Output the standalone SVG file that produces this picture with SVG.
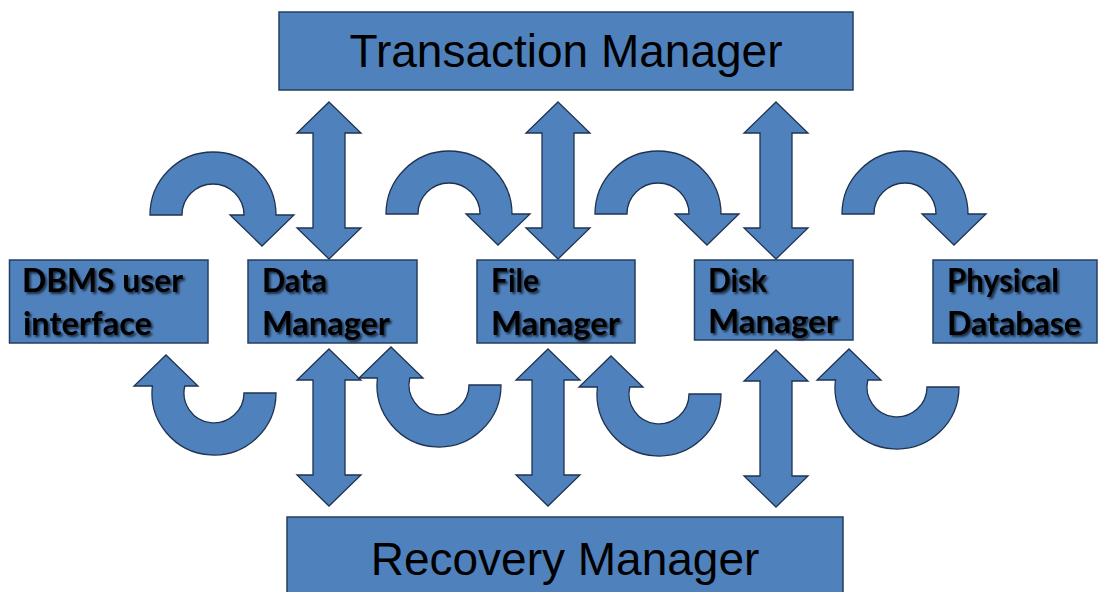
<svg xmlns="http://www.w3.org/2000/svg" xmlns:xlink="http://www.w3.org/1999/xlink" width="1099" height="592" viewBox="0 0 1099 592">
  <style>
    .box { fill: #4F81BD; stroke: #243F60; stroke-width: 1.5; }
    .arrow { fill: #4F81BD; stroke: #1F3350; stroke-width: 1.3; stroke-linejoin: miter; }
    .big { font-family: "Liberation Sans", Arial, sans-serif; font-size: 46px; fill: #000; text-anchor: middle; }
    .lbl { font-family: Lato, "Open Sans", sans-serif; font-weight: 700; font-size: 33px; fill: #000; filter: url(#shadow); }
  </style>
  <defs>
    <filter id="shadow" x="-10%" y="-30%" width="130%" height="170%">
      <feDropShadow dx="2" dy="2" stdDeviation="1.2" flood-color="#000" flood-opacity="0.65"/>
    </filter>
    <!-- vertical two-headed arrow, top tip at the origin -->
    <path id="vArrow" d="M0,0 L32,31 L16,31 L16,126 L32,126 L0,157 L-32,126 L-16,126 L-16,31 L-32,31 Z"/>
    <!-- half-ring arrow over the top, head on the right pointing down -->
    <path id="arcTop" d="M-63,0 A63,63 0 0 1 63,0 L81,0 L49,31 L17,0 L31,0 A31,31 0 0 0 -31,0 Z"/>
    <!-- half-ring arrow under the bottom, head on the left pointing up -->
    <path id="arcBottom" d="M62,0 A62,62 0 1 1 -61.6,-7 L-80,-7 L-48,-38 L-16,-7 L-29.2,-7 A30,30 0 1 0 30,0 Z"/>
  </defs>

  <rect width="1099" height="592" fill="#fff"/>

  <g id="connectors">
    <!-- links to the Transaction Manager -->
    <use xlink:href="#vArrow" class="arrow" x="329" y="102"/>
    <use xlink:href="#vArrow" class="arrow" x="558" y="102"/>
    <use xlink:href="#vArrow" class="arrow" x="776" y="102"/>
    <!-- links to the Recovery Manager -->
    <use xlink:href="#vArrow" class="arrow" x="329" y="349"/>
    <use xlink:href="#vArrow" class="arrow" x="548" y="349"/>
    <use xlink:href="#vArrow" class="arrow" x="776" y="350"/>
    <!-- forward flow between components -->
    <use xlink:href="#arcTop" class="arrow" x="213" y="215"/>
    <use xlink:href="#arcTop" class="arrow" x="449" y="214"/>
    <use xlink:href="#arcTop" class="arrow" x="658" y="214"/>
    <use xlink:href="#arcTop" class="arrow" x="905" y="214"/>
    <!-- return flow between components -->
    <use xlink:href="#arcBottom" class="arrow" x="214" y="393"/>
    <use xlink:href="#arcBottom" class="arrow" x="439" y="385"/>
    <use xlink:href="#arcBottom" class="arrow" x="659" y="394"/>
    <use xlink:href="#arcBottom" class="arrow" x="897" y="387"/>
  </g>

  <g id="transaction-manager">
    <rect class="box" x="279" y="12" width="574" height="78"/>
    <text class="big" x="566" y="67">Transaction Manager</text>
  </g>

  <g id="recovery-manager">
    <rect class="box" x="287" y="517" width="556" height="90"/>
    <text class="big" x="565" y="575">Recovery Manager</text>
  </g>

  <g id="dbms-user-interface">
    <rect class="box" x="9.5" y="260" width="198.5" height="83"/>
    <text class="lbl" x="22" y="292" textLength="161" lengthAdjust="spacingAndGlyphs">DBMS user</text>
    <text class="lbl" x="23" y="335" textLength="129" lengthAdjust="spacingAndGlyphs">interface</text>
  </g>

  <g id="data-manager">
    <rect class="box" x="248" y="260" width="169" height="83"/>
    <text class="lbl" x="262" y="292" textLength="65" lengthAdjust="spacingAndGlyphs">Data</text>
    <text class="lbl" x="262" y="335" textLength="128" lengthAdjust="spacingAndGlyphs">Manager</text>
  </g>

  <g id="file-manager">
    <rect class="box" x="477" y="260" width="158" height="83"/>
    <text class="lbl" x="491" y="292" textLength="48" lengthAdjust="spacingAndGlyphs">File</text>
    <text class="lbl" x="491" y="335" textLength="129" lengthAdjust="spacingAndGlyphs">Manager</text>
  </g>

  <g id="disk-manager">
    <rect class="box" x="694.5" y="260" width="158.5" height="80"/>
    <text class="lbl" x="708" y="292" textLength="59" lengthAdjust="spacingAndGlyphs">Disk</text>
    <text class="lbl" x="708" y="333" textLength="130" lengthAdjust="spacingAndGlyphs">Manager</text>
  </g>

  <g id="physical-database">
    <rect class="box" x="933" y="260" width="164" height="83"/>
    <text class="lbl" x="947" y="292" textLength="112" lengthAdjust="spacingAndGlyphs">Physical</text>
    <text class="lbl" x="947" y="335" textLength="134" lengthAdjust="spacingAndGlyphs">Database</text>
  </g>
</svg>
